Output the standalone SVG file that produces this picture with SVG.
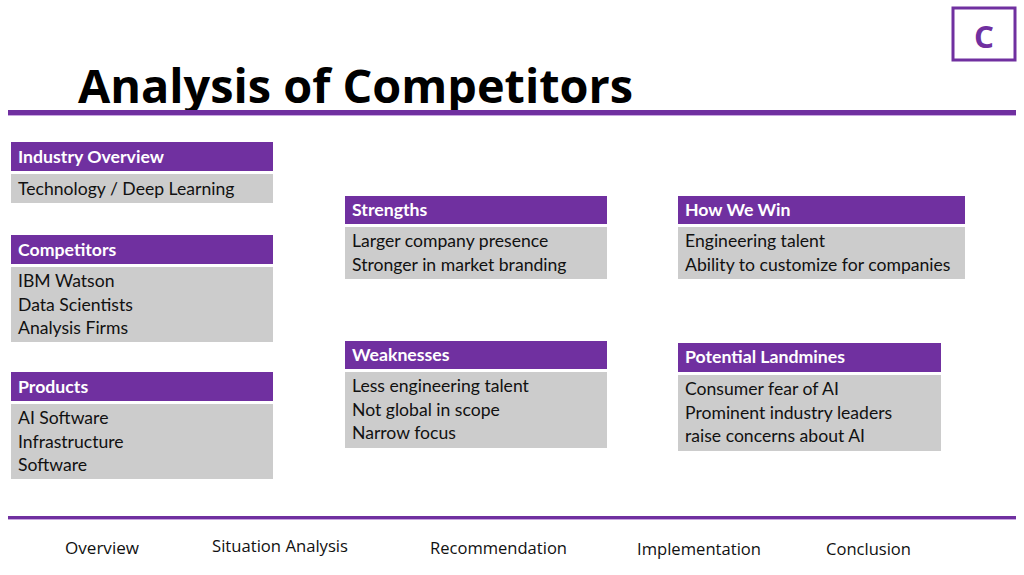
<svg xmlns="http://www.w3.org/2000/svg" width="1024" height="575" viewBox="0 0 1024 575">
<style>
.hdr{fill:#7030A0}
.bdy{fill:#CCCCCC}
.ht{font-family:Lato,"Liberation Sans",sans-serif;font-weight:bold;font-size:17.7px;fill:#FFFFFF}
.bt{font-family:Lato,"Liberation Sans",sans-serif;font-size:17.6px;fill:#111111}
.ft{font-family:"Open Sans","Liberation Sans",sans-serif;font-size:17px;fill:#111111}
</style>
<rect width="1024" height="575" fill="#FFFFFF"/>
<g id="badge">
<rect x="953" y="8" width="62" height="52" fill="none" stroke="#7030A0" stroke-width="3"/>
<text x="984" y="48" text-anchor="middle" font-family="'Open Sans','Liberation Sans',sans-serif" font-weight="bold" font-size="31" fill="#7030A0" textLength="20" lengthAdjust="spacingAndGlyphs">C</text>
</g>
<g id="title">
<text x="78" y="103" font-family="'Open Sans','Liberation Sans',sans-serif" font-weight="bold" font-size="47" fill="#000000" textLength="555" lengthAdjust="spacingAndGlyphs">Analysis of Competitors</text>
<rect x="8" y="110" width="1008" height="5" fill="#7030A0"/>
<rect x="8" y="115" width="1008" height="1" fill="#C9A6E0"/>
</g>
<g id="industry">
<rect class="hdr" x="11" y="142" width="262" height="29"/>
<text class="ht" x="18" y="163">Industry Overview</text>
<rect class="bdy" x="11" y="174" width="262" height="29"/>
<text class="bt" x="18" y="195">Technology / Deep Learning</text>
</g>
<g id="competitors">
<rect class="hdr" x="11" y="235" width="262" height="29"/>
<text class="ht" x="18" y="256">Competitors</text>
<rect class="bdy" x="11" y="267" width="262" height="75"/>
<text class="bt" x="18" y="287">IBM Watson</text>
<text class="bt" x="18" y="310.5">Data Scientists</text>
<text class="bt" x="18" y="334">Analysis Firms</text>
</g>
<g id="products">
<rect class="hdr" x="11" y="372" width="262" height="29"/>
<text class="ht" x="18" y="393">Products</text>
<rect class="bdy" x="11" y="404" width="262" height="75"/>
<text class="bt" x="18" y="424">AI Software</text>
<text class="bt" x="18" y="447.5">Infrastructure</text>
<text class="bt" x="18" y="471">Software</text>
</g>
<g id="strengths">
<rect class="hdr" x="345" y="196" width="262" height="28"/>
<text class="ht" x="352" y="216">Strengths</text>
<rect class="bdy" x="345" y="227" width="262" height="52"/>
<text class="bt" x="352" y="247">Larger company presence</text>
<text class="bt" x="352" y="271">Stronger in market branding</text>
</g>
<g id="weaknesses">
<rect class="hdr" x="345" y="341" width="262" height="28"/>
<text class="ht" x="352" y="361">Weaknesses</text>
<rect class="bdy" x="345" y="372" width="262" height="76"/>
<text class="bt" x="352" y="392">Less engineering talent</text>
<text class="bt" x="352" y="416">Not global in scope</text>
<text class="bt" x="352" y="439">Narrow focus</text>
</g>
<g id="howwewin">
<rect class="hdr" x="678" y="196" width="287" height="28"/>
<text class="ht" x="685" y="216">How We Win</text>
<rect class="bdy" x="678" y="227" width="287" height="52"/>
<text class="bt" x="685" y="247">Engineering talent</text>
<text class="bt" x="685" y="271">Ability to customize for companies</text>
</g>
<g id="landmines">
<rect class="hdr" x="678" y="343" width="263" height="29"/>
<text class="ht" x="685" y="363">Potential Landmines</text>
<rect class="bdy" x="678" y="375" width="263" height="76"/>
<text class="bt" x="685" y="395">Consumer fear of AI</text>
<text class="bt" x="685" y="418.5">Prominent industry leaders</text>
<text class="bt" x="685" y="442">raise concerns about AI</text>
</g>
<g id="connectors"></g>
<g id="footer">
<rect x="8" y="516" width="1008" height="3" fill="#7030A0"/>
<rect x="8" y="519" width="1008" height="1" fill="#C9A6E0"/>
<text class="ft" x="65" y="554" textLength="74" lengthAdjust="spacingAndGlyphs">Overview</text>
<text class="ft" x="212" y="552" textLength="136" lengthAdjust="spacingAndGlyphs">Situation Analysis</text>
<text class="ft" x="430" y="554" textLength="137" lengthAdjust="spacingAndGlyphs">Recommendation</text>
<text class="ft" x="637" y="555" textLength="124" lengthAdjust="spacingAndGlyphs">Implementation</text>
<text class="ft" x="826" y="555" textLength="85" lengthAdjust="spacingAndGlyphs">Conclusion</text>
</g>
</svg>
